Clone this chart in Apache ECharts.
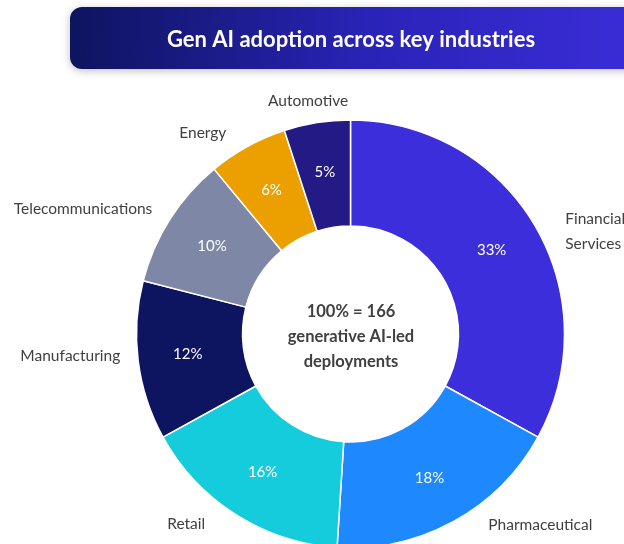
<!DOCTYPE html>
<html>
<head>
<meta charset="utf-8">
<script src="https://cdn.jsdelivr.net/npm/echarts@6/dist/echarts.min.js"></script>
<style>html,body{margin:0;padding:0;background:#fff;}#c{width:624px;height:544px;}</style>
</head>
<body>
<div id="c"></div>
<script>
const titleText = 'Gen AI adoption across key industries';
const centerText = ['100% = 166', 'generative AI-led', 'deployments'];
const industries = ['Financial\nServices', 'Pharmaceutical', 'Retail', 'Manufacturing', 'Telecommunications', 'Energy', 'Automotive'];
const shares = [33, 18, 16, 12, 10, 6, 5];
const sliceColors = ['#3D2EDB', '#1E88FF', '#15CCDD', '#0D1460', '#7E88A6', '#EBA000', '#231A85'];
// small hand nudges [dx, dy] for the outside name labels (layout only)
const labelNudge = [[10, 16], [21, -6], [-16, -6], [0, -7], [-2, -1], [-9, 1], [39, -4]];

const FONT = 'Lato';
const CX = 350.5, CY = 334;
const chart = echarts.init(document.getElementById('c'), null, {renderer: 'canvas'});
const data = industries.map((n, i) => ({name: n, value: shares[i], itemStyle: {color: sliceColors[i]}}));

chart.setOption({
  animation: false,
  graphic: [
    {type: 'rect', shape: {x: 70, y: 7, width: 600, height: 62, r: 12},
     style: {fill: new echarts.graphic.LinearGradient(0, 0, 1, 0.3, [{offset: 0, color: '#0E145E'}, {offset: 0.5, color: '#2A23B8'}, {offset: 1, color: '#3C2EDB'}]),
             shadowBlur: 8, shadowColor: 'rgba(0,0,0,0.25)', shadowOffsetY: 2}},
    {type: 'text', x: 351, y: 40, style: {text: titleText, fill: '#fff', font: 'bold 22px ' + FONT, textAlign: 'center', textVerticalAlign: 'middle'}, z: 10},
    {type: 'text', x: 351, y: 337, style: {text: centerText.join('\n'), fill: '#404040', font: 'bold 16.5px ' + FONT, lineHeight: 25, textAlign: 'center', textVerticalAlign: 'middle'}, z: 10}
  ],
  series: [
    {
      type: 'pie', center: [CX, CY], radius: [108, 214], startAngle: 90, clockwise: true,
      silent: true,
      itemStyle: {borderColor: '#fff', borderWidth: 1.5},
      label: {show: true, position: 'inside', formatter: '{c}%', color: '#fff', fontFamily: FONT, fontSize: 15},
      labelLine: {show: false},
      data: data
    },
    {
      type: 'pie', center: [CX, CY], radius: [108, 214], startAngle: 90, clockwise: true,
      silent: true, z: 1,
      itemStyle: {color: 'rgba(0,0,0,0)'},
      label: {show: true, position: 'outside', color: '#404040', fontFamily: FONT, fontSize: 15.5, lineHeight: 25, overflow: 'none', bleedMargin: 0},
      labelLine: {show: false, length: 18, length2: 0},
      labelLayout: function (p) {
        const n = labelNudge[p.dataIndex];
        return {dx: n[0], dy: n[1]};
      },
      data: industries.map((n, i) => ({name: n, value: shares[i]}))
    }
  ]
});
</script>
</body>
</html>
